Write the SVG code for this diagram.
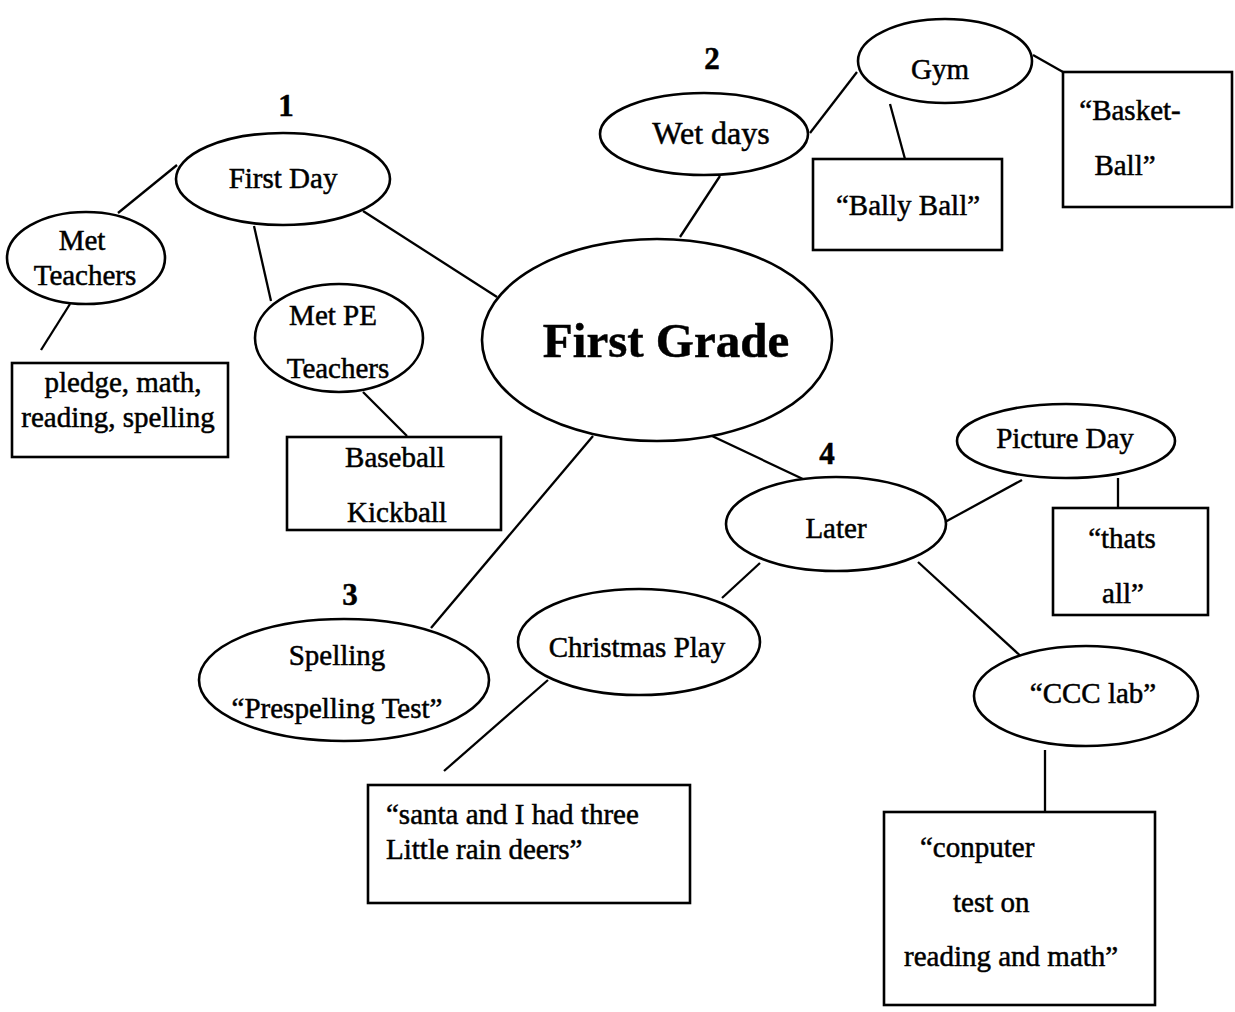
<svg xmlns="http://www.w3.org/2000/svg" width="1235" height="1012" viewBox="0 0 1235 1012">
<style>
.n{fill:#fff;stroke:#000;stroke-width:2.6}
.c line{stroke:#000;stroke-width:2.3}
text{font-family:"Liberation Serif","Times New Roman",serif;font-size:29px;fill:#000;stroke:#000;stroke-width:0.5;text-anchor:middle}
.num{font-weight:bold;font-size:31px}
.l{text-anchor:start}
.big{font-weight:bold;font-size:49px}
</style>
<rect width="1235" height="1012" fill="#fff"/>
<g class="c" id="connectors">
<line x1="118" y1="213" x2="177" y2="165"/>
<line x1="70" y1="304" x2="41" y2="350"/>
<line x1="254" y1="226" x2="271" y2="301"/>
<line x1="363" y1="211" x2="497" y2="297"/>
<line x1="363" y1="392" x2="407" y2="436"/>
<line x1="720" y1="176" x2="680" y2="237"/>
<line x1="810" y1="133" x2="857" y2="72"/>
<line x1="890" y1="104" x2="905" y2="159"/>
<line x1="1033" y1="55" x2="1063" y2="72"/>
<line x1="593" y1="436" x2="431" y2="628"/>
<line x1="712" y1="436" x2="805" y2="480"/>
<line x1="722" y1="598" x2="760" y2="563"/>
<line x1="548" y1="680" x2="444" y2="771"/>
<line x1="945" y1="522" x2="1022" y2="480"/>
<line x1="1118" y1="478" x2="1118" y2="508"/>
<line x1="918" y1="562" x2="1025" y2="660"/>
<line x1="1045" y1="750" x2="1045" y2="812"/>
</g>
<g id="first-grade"><ellipse class="n" cx="657" cy="340" rx="175" ry="101"/><text class="big" x="666" y="357">First Grade</text></g>
<g id="first-day"><text class="num" x="286" y="116">1</text><ellipse class="n" cx="283" cy="179" rx="107" ry="46"/><text x="283" y="188">First Day</text></g>
<g id="met-teachers"><ellipse class="n" cx="86" cy="258" rx="79" ry="46"/><text x="82" y="250">Met</text><text x="85" y="285">Teachers</text></g>
<g id="pledge"><rect class="n" x="12" y="363" width="216" height="94"/><text x="123" y="392">pledge, math,</text><text x="118" y="427">reading, spelling</text></g>
<g id="met-pe"><ellipse class="n" cx="339" cy="338" rx="84" ry="54"/><text x="333" y="325">Met PE</text><text x="338" y="378">Teachers</text></g>
<g id="baseball"><rect class="n" x="287" y="437" width="214" height="93"/><text x="395" y="467">Baseball</text><text x="397" y="522">Kickball</text></g>
<g id="wet-days"><text class="num" x="712" y="69">2</text><ellipse class="n" cx="704" cy="134" rx="104" ry="41"/><text x="711" y="144" style="font-size:32px">Wet days</text></g>
<g id="gym"><ellipse class="n" cx="945" cy="61" rx="87" ry="42"/><text x="940" y="79">Gym</text></g>
<g id="bally"><rect class="n" x="813" y="159" width="189" height="91"/><text x="908" y="215">“Bally Ball”</text></g>
<g id="basket"><rect class="n" x="1063" y="72" width="169" height="135"/><text x="1130" y="120">“Basket-</text><text x="1125" y="175">Ball”</text></g>
<g id="spelling"><text class="num" x="350" y="605">3</text><ellipse class="n" cx="344" cy="680" rx="145" ry="61"/><text x="337" y="665">Spelling</text><text x="337" y="718">“Prespelling Test”</text></g>
<g id="christmas"><ellipse class="n" cx="639" cy="642" rx="121" ry="53"/><text x="637" y="657">Christmas Play</text></g>
<g id="santa"><rect class="n" x="368" y="785" width="322" height="118"/><text class="l" x="386" y="824">“santa and I had three</text><text class="l" x="386" y="859">Little rain deers”</text></g>
<g id="later"><text class="num" x="827" y="464">4</text><ellipse class="n" cx="836" cy="524" rx="110" ry="47"/><text x="836" y="538">Later</text></g>
<g id="picture-day"><ellipse class="n" cx="1066" cy="441" rx="109" ry="37"/><text x="1065" y="448">Picture Day</text></g>
<g id="thats"><rect class="n" x="1053" y="508" width="155" height="107"/><text x="1122" y="548">“thats</text><text x="1123" y="603">all”</text></g>
<g id="ccc"><ellipse class="n" cx="1086" cy="696" rx="112" ry="50"/><text x="1093" y="703">“CCC lab”</text></g>
<g id="computer"><rect class="n" x="884" y="812" width="271" height="193"/><text class="l" x="920" y="857">“conputer</text><text class="l" x="953" y="912">test on</text><text class="l" x="904" y="966">reading and math”</text></g>
</svg>
